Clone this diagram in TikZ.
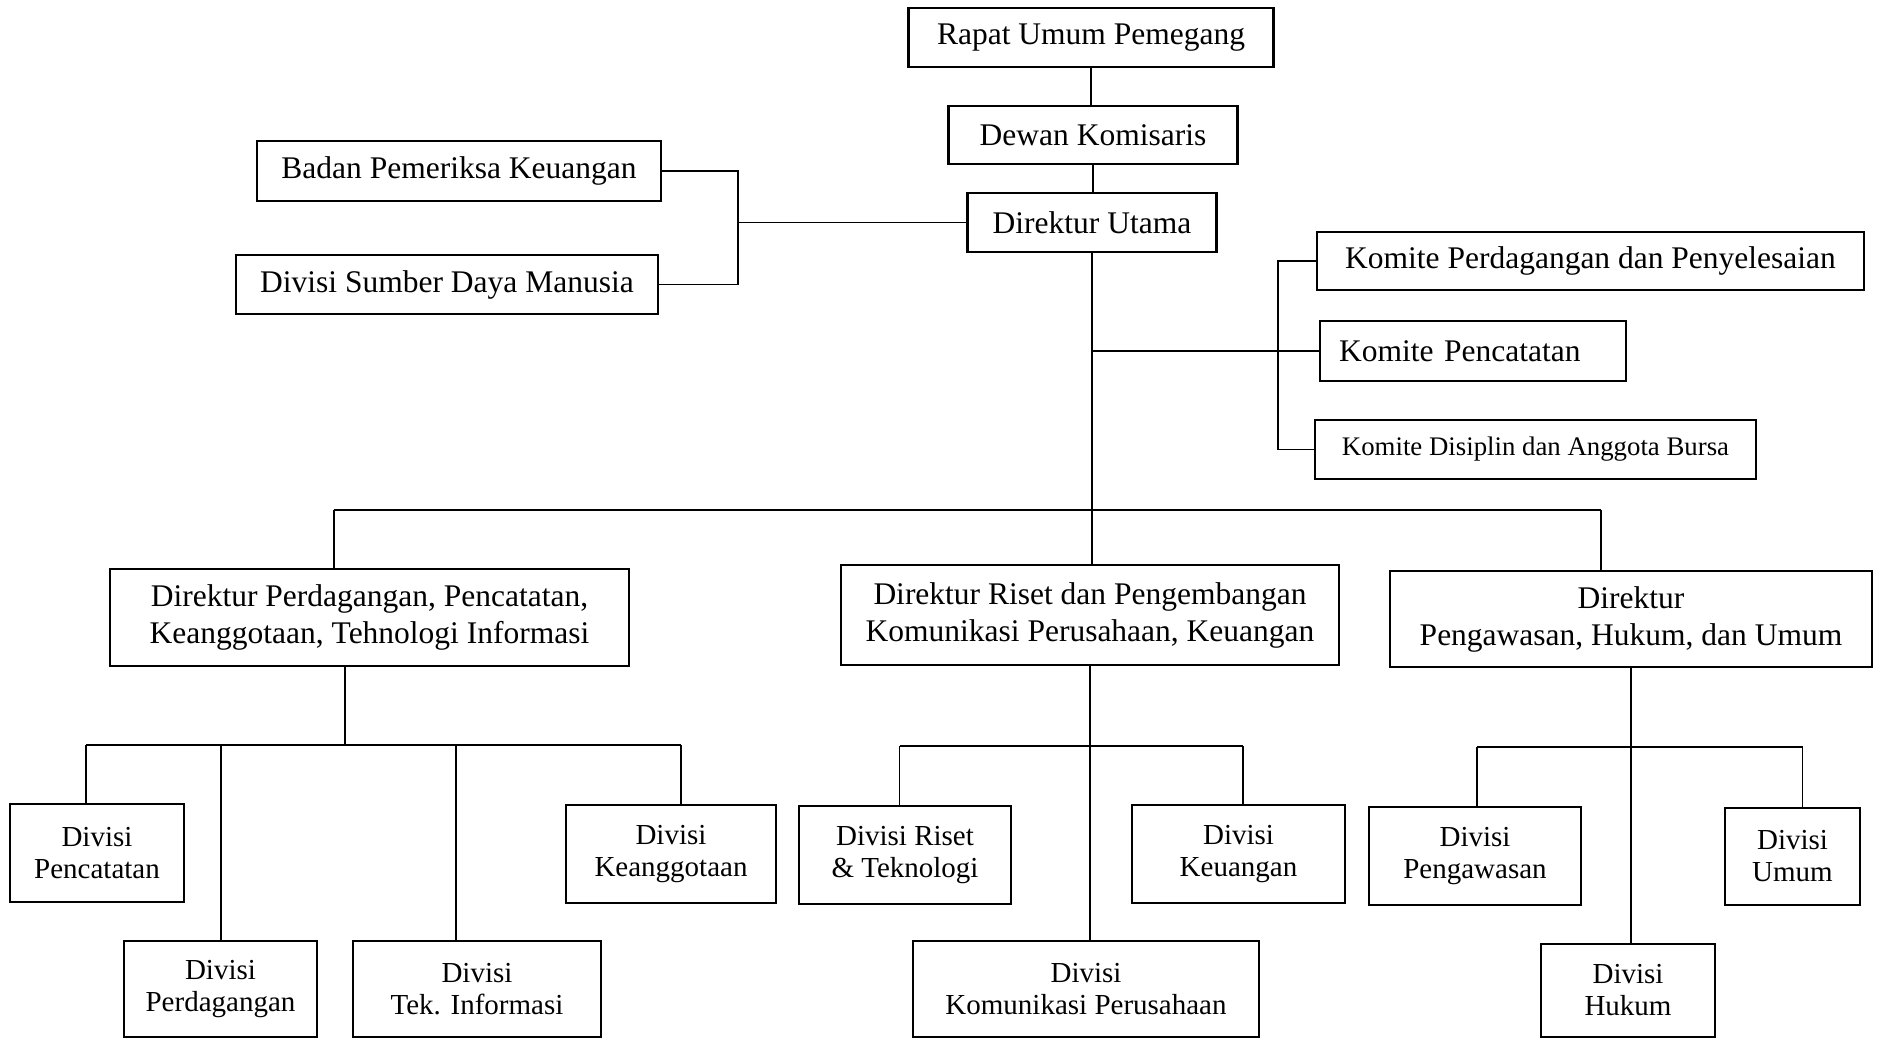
\documentclass[tikz,border=0pt]{standalone}
\usepackage{fontspec}
\setmainfont{Liberation Serif}
\begin{document}
\begin{tikzpicture}[x=0.5pt,y=-0.5pt,
  box/.style={draw=black,line width=1.1pt,inner sep=0pt,align=center,
    font=\fontsize{15.75}{18.5}\selectfont},
  dbox/.style={box,font=\fontsize{14.5}{16}\selectfont},
  conn/.style={line width=0.75pt}]
\useasboundingbox[fill=white] (0,0) rectangle (1878,1038);
% top chain
\node[box,minimum width=182.5pt,minimum height=29.5pt] (rapat) at (1091,37.5) {Rapat Umum Pemegang};
\node[box,minimum width=144.5pt,minimum height=29pt] (dewan) at (1093,135) {Dewan Komisaris};
\node[box,minimum width=124.5pt,minimum height=29.5pt] (dirut) at (1092,222.5) {Direktur Utama};
% left staff
\node[box,minimum width=202pt,minimum height=30pt] (bpk) at (459,171) {Badan Pemeriksa Keuangan};
\node[box,minimum width=211pt,minimum height=29.5pt] (sdm) at (447,284.5) {Divisi Sumber Daya Manusia};
% right committees
\node[box,minimum width=273.5pt,minimum height=29pt] (kp) at (1590.5,261) {Komite Perdagangan dan Penyelesaian};
\node[box,anchor=west,inner xsep=9.5pt,text width=134pt,align=left,minimum height=30pt] (kpc) at (1319,351) {Komite Pencatatan};
\node[box,minimum width=220.5pt,minimum height=29.5pt,font=\fontsize{13.4}{16}\selectfont] (kd) at (1535.5,449.5) {Komite Disiplin dan Anggota Bursa};
% directors
\node[box,minimum width=259.5pt,minimum height=48.5pt] (dp) at (369.5,617.5) {Direktur Perdagangan, Pencatatan,\\Keanggotaan, Tehnologi Informasi};
\node[box,minimum width=249pt,minimum height=50pt] (dr) at (1090,615) {Direktur Riset dan Pengembangan\\Komunikasi Perusahaan, Keuangan};
\node[box,minimum width=241pt,minimum height=48pt] (dpw) at (1631,619) {Direktur\\Pengawasan, Hukum, dan Umum};
% divisions
\node[dbox,minimum width=87pt,minimum height=49pt] (dvpc) at (97,853) {Divisi\\Pencatatan};
\node[dbox,minimum width=96.5pt,minimum height=48pt] (dvpd) at (220.5,989) {Divisi\\Perdagangan};
\node[dbox,minimum width=124pt,minimum height=48pt] (dvti) at (477,989) {Divisi\\Tek. Informasi};
\node[dbox,minimum width=105pt,minimum height=49pt] (dvka) at (671,854) {Divisi\\Keanggotaan};
\node[dbox,minimum width=106pt,minimum height=49pt] (dvrt) at (905,855) {Divisi Riset\\\& Teknologi};
\node[dbox,minimum width=106.5pt,minimum height=49pt] (dvku) at (1238.5,854) {Divisi\\Keuangan};
\node[dbox,minimum width=173pt,minimum height=48pt] (dvkp) at (1086,989) {Divisi\\Komunikasi Perusahaan};
\node[dbox,minimum width=106pt,minimum height=49pt] (dvpw) at (1475,856) {Divisi\\Pengawasan};
\node[dbox,minimum width=67.5pt,minimum height=48.5pt] (dvum) at (1792.5,856.5) {Divisi\\Umum};
\node[dbox,minimum width=87pt,minimum height=46.5pt] (dvhk) at (1628,990.5) {Divisi\\Hukum};
% coordinates
\coordinate (lbr) at (738,222.5);
\coordinate (rbr) at (1278,351);
\coordinate (mid) at (1091,351);
\coordinate (busL) at (334,510);
\coordinate (busR) at (1601,510);
\coordinate (cL1) at (86,745);
\coordinate (cL2) at (221,745);
\coordinate (jL) at (345,745);
\coordinate (cL3) at (456,745);
\coordinate (cL4) at (681,745);
\coordinate (cM1) at (899.5,746);
\coordinate (cM2) at (1243,746);
\coordinate (cR1) at (1477,747);
\coordinate (cR2) at (1802.5,747);
% connectors
\draw[conn] (rapat.south) -- (rapat.south |- dewan.north);
\draw[conn] (dewan.south) -- (dewan.south |- dirut.north);
\draw[conn] (bpk.east) -| (lbr) |- (sdm.east);
\draw[conn] (lbr) -- (dirut.west);
\draw[conn] (kp.west) -| (rbr) |- (kd.west);
\draw[conn] (mid) -- (kpc.west);
\draw[conn] (dirut.south) -- (dirut.south |- dr.north);
\draw[conn] (busL) -- (busR);
\draw[conn] (busL) -- (busL |- dp.north);
\draw[conn] (busR) -- (busR |- dpw.north);
% left group
\draw[conn] (jL |- dp.south) -- (jL);
\draw[conn] (cL1) -- (cL4);
\draw[conn] (cL1) -- (cL1 |- dvpc.north);
\draw[conn] (cL2) -- (cL2 |- dvpd.north);
\draw[conn] (cL3) -- (cL3 |- dvti.north);
\draw[conn] (cL4) -- (cL4 |- dvka.north);
% middle group
\draw[conn] (dr.south) -- (dr.south |- dvkp.north);
\draw[conn] (cM1) -- (cM2);
\draw[conn] (cM1) -- (cM1 |- dvrt.north);
\draw[conn] (cM2) -- (cM2 |- dvku.north);
% right group
\draw[conn] (dpw.south) -- (dpw.south |- dvhk.north);
\draw[conn] (cR1) -- (cR2);
\draw[conn] (cR1) -- (cR1 |- dvpw.north);
\draw[conn] (cR2) -- (cR2 |- dvum.north);
\end{tikzpicture}
\end{document}
